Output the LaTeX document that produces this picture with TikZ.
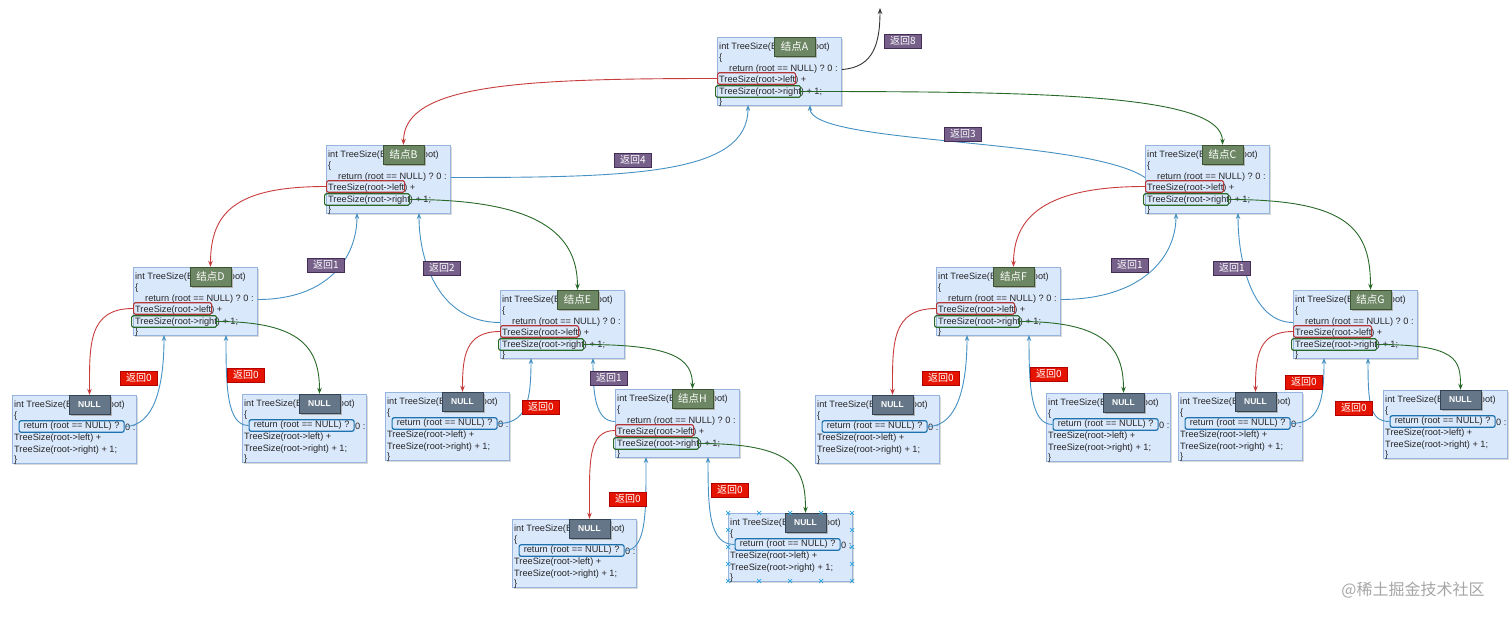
\documentclass[tikz,border=0pt]{standalone}
\usepackage{fontspec}
\usepackage{xcolor}
\usepackage{tikz}
\usetikzlibrary{arrows.meta}
\setmainfont{Liberation Sans}
\newfontfamily\cjk{Noto Sans CJK SC}

\definecolor{boxfill}{RGB}{218,232,252}
\definecolor{boxline}{RGB}{150,180,222}
\definecolor{taggreen}{RGB}{109,135,100}
\definecolor{taggreenline}{RGB}{58,84,49}
\definecolor{tagnull}{RGB}{100,118,135}
\definecolor{tagnullline}{RGB}{49,67,84}
\definecolor{retpurple}{RGB}{118,96,138}
\definecolor{retpurpleline}{RGB}{67,45,87}
\definecolor{retred}{RGB}{229,20,0}
\definecolor{retredline}{RGB}{178,0,0}
\definecolor{callred}{RGB}{200,60,60}
\definecolor{callgreen}{RGB}{40,105,40}
\definecolor{retblue}{RGB}{70,145,195}
\definecolor{hlblue}{RGB}{30,115,175}
\definecolor{handleblue}{RGB}{41,163,224}

\tikzset{
  codebox/.style={draw=boxline, fill=boxfill, line width=0.8pt, minimum width=124pt, minimum height=68pt, inner sep=0pt, anchor=north west},
  codetxt/.style={font=\fontsize{9.2}{11}\selectfont, text=black!85, inner sep=0pt, anchor=west},
  lefthl/.style={draw=callred!90!black, line width=1.2pt, rounded corners=1.5pt, minimum width=78pt, minimum height=11.5pt, inner sep=0pt, anchor=west},
  righthl/.style={draw=callgreen, line width=1.2pt, rounded corners=1.5pt, minimum width=85pt, minimum height=11.5pt, inner sep=0pt, anchor=west},
  rethl/.style={codetxt, draw=hlblue, line width=1.2pt, rounded corners=2pt, minimum width=105pt, minimum height=11.5pt, anchor=west},
  nodetag/.style={fill=taggreen, draw=taggreenline, text=white, font=\cjk\fontsize{10.5}{12}\selectfont, minimum width=41pt, minimum height=19pt, inner sep=0pt},
  nulltag/.style={nodetag, fill=tagnull, draw=tagnullline, font=\bfseries\fontsize{8.5}{10}\selectfont},
  retlabel/.style={fill=retpurple, draw=retpurpleline, text=white, font=\cjk\fontsize{10}{11}\selectfont, minimum width=37pt, minimum height=14pt, inner sep=0pt},
  zerolabel/.style={retlabel, fill=retred, draw=retredline},
  callarrow/.style={line width=0.9pt, -{Stealth[length=6pt,width=4.5pt]}},
  goleft/.style={callarrow, draw=callred},
  goright/.style={callarrow, draw=callgreen},
  goback/.style={callarrow, draw=retblue},
  handle/.style={draw=handleblue, line width=0.7pt},
  watermark/.style={font=\cjk\fontsize{16}{18}\selectfont, text=black!35, inner sep=0pt}
}

% code box of a tree node: name, left, top, tag
\newcommand{\treenode}[4]{%
  \fill[black!15] (#2+2,#3+2) rectangle (#2+126,#3+70);
  \node[codebox] (#1) at (#2,#3) {};
  \node[codetxt] (#1-l1) at (#2+2,#3+10) {int TreeSize(BTNode* root)};
  \node[codetxt] (#1-l2) at (#2+2,#3+21) {\{};
  \node[codetxt] (#1-l3) at (#2+12,#3+32.5) {return (root == NULL) ? 0 :};
  \node[codetxt] (#1-l4) at (#2+2,#3+43.5) {TreeSize(root->left) +};
  \node[codetxt] (#1-l5) at (#2+2,#3+55) {TreeSize(root->right) + 1;};
  \node[codetxt] (#1-l6) at (#2+2,#3+65.5) {\}};
  \node[lefthl] (#1-lt) at (#2,#3+41.5) {};
  \node[righthl] (#1-rt) at (#2-2,#3+54.5) {};
  \fill[black!30] (#2+59,#3+2) rectangle ++(41,19);
  \node[nodetag] (#1-tag) at (#2+77.5,#3+9.5) {#4};
  \coordinate (#1-p) at (#2+31,#3+68);
  \coordinate (#1-q) at (#2+93,#3+68);
}

% code box of an empty child: name, left, top
\newcommand{\nullnode}[3]{%
  \fill[black!15] (#2+2,#3+2) rectangle (#2+126,#3+70);
  \node[codebox] (#1) at (#2,#3) {};
  \node[codetxt] (#1-l1) at (#2+2,#3+10) {int TreeSize(BTNode* root)};
  \node[codetxt] (#1-l2) at (#2+2,#3+21) {\{};
  \node[rethl] (#1-ret) at (#2+6.5,#3+31.5) {return (root == NULL) ?};
  \node[codetxt] (#1-l3) at (#2+113,#3+32) {0 :};
  \node[codetxt] (#1-l4) at (#2+2,#3+43.5) {TreeSize(root->left) +};
  \node[codetxt] (#1-l5) at (#2+2,#3+55) {TreeSize(root->right) + 1;};
  \node[codetxt] (#1-l6) at (#2+2,#3+65.5) {\}};
  \fill[black!30] (#2+59,#3+2) rectangle ++(41,19);
  \node[nulltag] (#1-tag) at (#2+77.5,#3+9.5) {NULL};
}

\begin{document}
\begin{tikzpicture}[x=1pt,y=1pt,yscale=-1,xscale=1]
\path[use as bounding box, fill=white] (0,0) rectangle (1512,617);

%Code boxes
\treenode{A}{717}{37}{结点A}
\treenode{B}{326}{145}{结点B}
\treenode{C}{1145}{145}{结点C}
\treenode{D}{133}{267}{结点D}
\treenode{E}{500}{290}{结点E}
\treenode{F}{936}{267}{结点F}
\treenode{G}{1293}{290}{结点G}
\treenode{H}{615}{389}{结点H}
\coordinate (G-q) at (1368,358);
\nullnode{n1}{12}{395}
\nullnode{n2}{242}{394}
\nullnode{n3}{385}{392}
\nullnode{n4}{512}{519}
\nullnode{n5}{728}{513}
\nullnode{n6}{815}{395}
\nullnode{n7}{1046}{393}
\nullnode{n8}{1178}{392}
\nullnode{n9}{1383}{390}

%Selection handles
\foreach \hx in {0,31,62,93,124}
  \foreach \hy in {0,68}
    \draw[handle] (728+\hx,513+\hy) +(-2,-2) -- +(2,2) +(-2,2) -- +(2,-2);
\foreach \hx in {0,124}
  \foreach \hy in {17,34,51}
    \draw[handle] (728+\hx,513+\hy) +(-2,-2) -- +(2,2) +(-2,2) -- +(2,-2);

\coordinate (exit) at (880,8);

%Curves from A
\draw[goleft] (A-lt.west) .. controls +(-200,0) and +(0,-60) .. (B-tag.north);
\draw[goright] (A-rt.east) .. controls +(250,0) and +(0,-50) .. (C-tag.north);
\draw[goback] (B-l3 -| B.east) .. controls +(180,0) and +(0,70) .. (A-p);
\draw[goback] (C-l3 -| C.west) .. controls +(-60,-40) and +(0,40) .. (A-q);
\draw[callarrow, draw=black!80] (A-l3 -| A.east) .. controls +(32,-2) and +(0,35) .. (exit);

%Curves from B
\draw[goleft] (B-lt.west) .. controls +(-90,0) and +(0,-55) .. (D-tag.north);
\draw[goright] (B-rt.east) .. controls +(130,0) and +(0,-55) .. (E-tag.north);
\draw[goback] (D-l3 -| D.east) .. controls +(70,0) and +(0,45) .. (B-p);
\draw[goback] (E-l3 -| E.west) .. controls +(-60,0) and +(0,50) .. (B-q);

%Curves from C
\draw[goleft] (C-lt.west) .. controls +(-100,0) and +(0,-50) .. (F-tag.north);
\draw[goright] (C-rt.east) .. controls +(120,0) and +(0,-60) .. (G-tag.north);
\draw[goback] (F-l3 -| F.east) .. controls +(80,0) and +(0,45) .. (C-p);
\draw[goback] (G-l3 -| G.west) .. controls +(-40,0) and +(0,50) .. (C-q);

%Curves from D
\draw[goleft] (D-lt.west) .. controls +(-45,0) and +(0,-50) .. (n1-tag.north);
\draw[goright] (D-rt.east) .. controls +(85,0) and +(0,-45) .. (n2-tag.north);
\draw[goback] (n1-ret.east) .. controls +(30,0) and +(0,50) .. (D-p);
\draw[goback] (n2-ret.west) .. controls +(-22,0) and +(0,50) .. (D-q);

%Curves from E
\draw[goleft] (E-lt.west) .. controls +(-35,0) and +(0,-35) .. (n3-tag.north);
\draw[goright] (E-rt.east) .. controls +(90,0) and +(0,-30) .. (H-tag.north);
\draw[goback] (n3-ret.east) .. controls +(28,0) and +(0,45) .. (E-p);
\draw[goback] (H-l3 -| H.west) .. controls +(-20,0) and +(0,35) .. (E-q);

%Curves from H
\draw[goleft] (H-lt.west) .. controls +(-28,0) and +(0,-55) .. (n4-tag.north);
\draw[goright] (H-rt.east) .. controls +(95,0) and +(0,-45) .. (n5-tag.north);
\draw[goback] (n4-ret.east) .. controls +(22,0) and +(0,55) .. (H-p);
\draw[goback] (n5-ret.west) .. controls +(-25,0) and +(0,55) .. (H-q);

%Curves from F
\draw[goleft] (F-lt.west) .. controls +(-45,0) and +(0,-50) .. (n6-tag.north);
\draw[goright] (F-rt.east) .. controls +(85,0) and +(0,-45) .. (n7-tag.north);
\draw[goback] (n6-ret.east) .. controls +(30,0) and +(0,50) .. (F-p);
\draw[goback] (n7-ret.west) .. controls +(-22,0) and +(0,50) .. (F-q);

%Curves from G
\draw[goleft] (G-lt.west) .. controls +(-35,0) and +(0,-35) .. (n8-tag.north);
\draw[goright] (G-rt.east) .. controls +(80,0) and +(0,-30) .. (n9-tag.north);
\draw[goback] (n8-ret.east) .. controls +(28,0) and +(0,45) .. (G-p);
\draw[goback] (n9-ret.west) .. controls +(-20,0) and +(0,45) .. (G-q);

% Text Node
\node[retlabel] (ret8) at (903,41) {返回8};
\node[retlabel] (ret4) at (633,160) {返回4};
\node[retlabel] (ret3) at (963,134) {返回3};
\node[retlabel] (retD) at (326,265) {返回1};
\node[retlabel] (retE) at (442,268) {返回2};
\node[retlabel] (retH) at (609,378) {返回1};
\node[retlabel] (retF) at (1130,265) {返回1};
\node[retlabel] (retG) at (1232,268) {返回1};
\node[zerolabel] (ret-n1) at (139,378) {返回0};
\node[zerolabel] (ret-n2) at (246,375) {返回0};
\node[zerolabel] (ret-n3) at (541,407) {返回0};
\node[zerolabel] (ret-n4) at (628,499) {返回0};
\node[zerolabel] (ret-n5) at (730,490) {返回0};
\node[zerolabel] (ret-n6) at (941,378) {返回0};
\node[zerolabel] (ret-n7) at (1049,374) {返回0};
\node[zerolabel] (ret-n8) at (1304,382) {返回0};
\node[zerolabel] (ret-n9) at (1354,408) {返回0};
% Text Node
\node[watermark] (mark) at (1413,590) {@稀土掘金技术社区};

\end{tikzpicture}
\end{document}
